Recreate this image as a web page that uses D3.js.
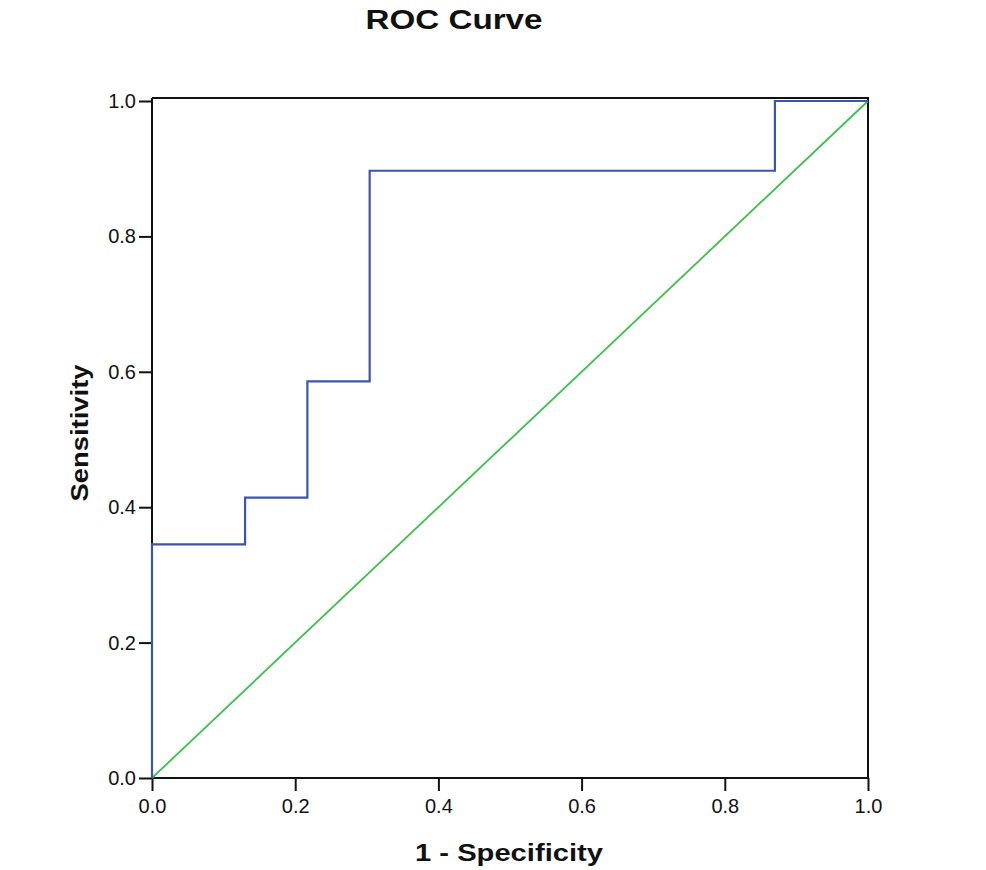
<!DOCTYPE html>
<html><head><meta charset="utf-8">
<script src="https://cdn.jsdelivr.net/npm/d3@7"></script>
<style>body{margin:0;background:#fff;} svg{display:block;}</style>
</head><body>
<script>
// Data
const fpr = [0, 0, 0.130, 0.130, 0.217, 0.217, 0.304, 0.304, 0.870, 0.870, 1.0];
const tpr = [0, 0.345, 0.345, 0.414, 0.414, 0.586, 0.586, 0.897, 0.897, 1.0, 1.0];
const refX = [0, 1];
const refY = [0, 1];
const tickValues = [0, 0.2, 0.4, 0.6, 0.8, 1.0];
const title = "ROC Curve";
const xLabel = "1 - Specificity";
const yLabel = "Sensitivity";

const W = 986, H = 870;
const svg = d3.select("body").append("svg").attr("width", W).attr("height", H);
const x = d3.scaleLinear().domain([0, 1]).range([152, 868]);
const y = d3.scaleLinear().domain([0, 1]).range([778, 101]);
const font = "'Liberation Sans', Arial, sans-serif";

// frame (top and right)
svg.append("path")
  .attr("d", `M${x(0)},${y(1)-3}H${x(1)}V${y(0)}`)
  .attr("fill", "none").attr("stroke", "#111").attr("stroke-width", 2);

// axes
const xAxis = d3.axisBottom(x).tickValues(tickValues).tickFormat(d3.format(".1f")).tickSize(13).tickSizeOuter(0);
const yAxis = d3.axisLeft(y).tickValues(tickValues).tickFormat(d3.format(".1f")).tickSize(13).tickSizeOuter(0);
const gx = svg.append("g").attr("transform", `translate(0,${y(0)})`).call(xAxis);
const gy = svg.append("g").attr("transform", `translate(${x(0)},0)`).call(yAxis);
[gx, gy].forEach(g => {
  g.select(".domain").attr("stroke", "#111").attr("stroke-width", 2);
  g.selectAll(".tick line").attr("stroke", "#111").attr("stroke-width", 2);
  g.selectAll(".tick text").attr("font-family", font).attr("font-size", 20).attr("fill", "#111");
});
gx.select(".domain").attr("d", `M${x(0)},0H${x(1)}`);
gy.select(".domain").attr("d", `M0,${y(0)}V${y(1)-3}`);
gx.selectAll(".tick text").attr("dy", null).attr("y", 0).attr("transform", "translate(0,35)");
gy.selectAll(".tick text").attr("x", -16);

// reference diagonal
const line = d3.line().x(d => x(d[0])).y(d => y(d[1]));
svg.append("path")
  .attr("d", line(refX.map((v, i) => [v, refY[i]])))
  .attr("fill", "none").attr("stroke", "#3cc04a").attr("stroke-width", 1.8);

// ROC curve
svg.append("path")
  .attr("d", line(fpr.map((v, i) => [v, tpr[i]])))
  .attr("fill", "none").attr("stroke", "#3a55b0").attr("stroke-width", 2.2);

// titles
svg.append("text").attr("x", 454).attr("y", 29).attr("text-anchor", "middle")
  .attr("font-family", font).attr("font-weight", "bold").attr("font-size", 27)
  .attr("textLength", 177).attr("lengthAdjust", "spacingAndGlyphs").attr("fill", "#111").text(title);
svg.append("text").attr("x", 509).attr("y", 861).attr("text-anchor", "middle")
  .attr("font-family", font).attr("font-weight", "bold").attr("font-size", 24)
  .attr("textLength", 188).attr("lengthAdjust", "spacingAndGlyphs").attr("fill", "#111").text(xLabel);
svg.append("text").attr("transform", "translate(88,433) rotate(-90)").attr("text-anchor", "middle")
  .attr("font-family", font).attr("font-weight", "bold").attr("font-size", 24)
  .attr("textLength", 137).attr("lengthAdjust", "spacingAndGlyphs").attr("fill", "#111").text(yLabel);
</script>
</body></html>
